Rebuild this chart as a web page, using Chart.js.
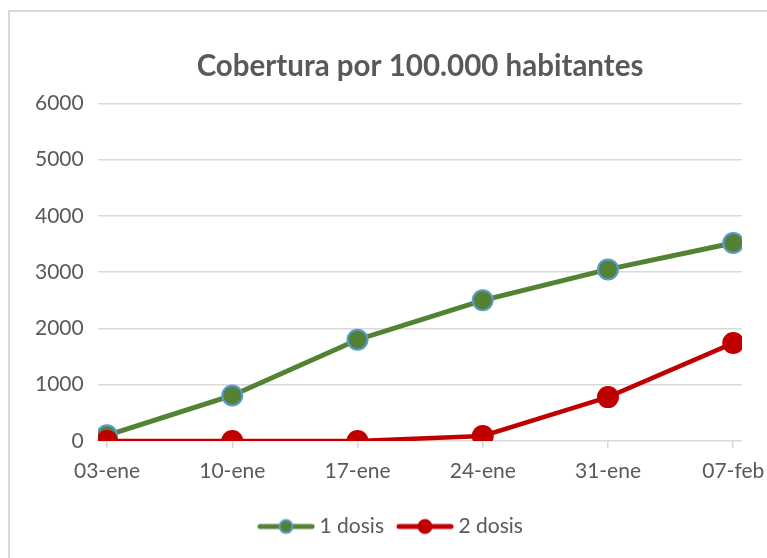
<!DOCTYPE html>
<html>
<head>
<meta charset="utf-8">
<script src="https://cdn.jsdelivr.net/npm/chart.js@4/dist/chart.umd.min.js"></script>
<style>
    html, body { margin: 0; padding: 0; background: #fff; overflow: hidden; }
    .frame { position: absolute; left: 8px; top: 10px; width: 820px; height: 620px; border: 2px solid #d9d9d9; }
    #chart { position: absolute; left: 0; top: 0; }
</style>
</head>
<body>
<div class="frame"></div>
<canvas id="chart" width="767" height="558"></canvas>
<script>
    const LABELS = ["03-ene", "10-ene", "17-ene", "24-ene", "31-ene", "07-feb"];
    const DOSIS_1 = [100, 810, 1800, 2500, 3050, 3520];
    const DOSIS_2 = [0, 0, 0, 90, 780, 1740];
    const Y_TICKS = [0, 1000, 2000, 3000, 4000, 5000, 6000];

    const GREEN = "#548235";
    const BLUE = "#5b9bd5";
    const RED = "#c00000";
    const TEXT = "#595959";
    const GRID = "#d9d9d9";
    const FONT = "Lato, 'Open Sans', sans-serif";

    // small legend glyph: line with a dot in the middle, like excel
    function legendGlyph(color, border) {
        const c = document.createElement("canvas");
        c.width = 58;
        c.height = 18;
        const ctx = c.getContext("2d");
        ctx.strokeStyle = color;
        ctx.lineWidth = 5;
        ctx.lineCap = "round";
        ctx.beginPath();
        ctx.moveTo(3, 9);
        ctx.lineTo(55, 9);
        ctx.stroke();
        ctx.beginPath();
        ctx.arc(29, 9, 6.5, 0, Math.PI * 2);
        ctx.fillStyle = color;
        ctx.fill();
        ctx.lineWidth = 2;
        ctx.strokeStyle = border;
        ctx.stroke();
        return c;
    }

    const points = values => values.map((v, i) => ({ x: i, y: v }));

    new Chart(document.getElementById("chart"), {
        type: "line",
        data: {
            datasets: [
                {
                    label: "1 dosis",
                    data: points(DOSIS_1),
                    borderColor: GREEN,
                    backgroundColor: GREEN,
                    borderWidth: 5,
                    pointRadius: 10,
                    pointBorderWidth: 2,
                    pointBorderColor: BLUE,
                    pointBackgroundColor: GREEN,
                    order: 1,
                    glyph: legendGlyph(GREEN, BLUE)
                },
                {
                    label: "2 dosis",
                    data: points(DOSIS_2),
                    borderColor: RED,
                    backgroundColor: RED,
                    borderWidth: 4.5,
                    pointRadius: 11,
                    pointBorderWidth: 0,
                    pointBackgroundColor: RED,
                    order: 0,
                    glyph: legendGlyph(RED, RED)
                }
            ]
        },
        options: {
            responsive: false,
            animation: false,
            layout: { padding: { left: 44, right: 25, top: 49, bottom: 11 } },
            plugins: {
                title: {
                    display: true,
                    fullSize: false,
                    text: "Cobertura por 100.000 habitantes",
                    color: TEXT,
                    font: { family: FONT, size: 29.5, weight: "bold" },
                    padding: { top: 0, bottom: 19 }
                },
                legend: {
                    position: "bottom",
                    labels: {
                        color: TEXT,
                        font: { family: FONT, size: 21 },
                        usePointStyle: true,
                        pointStyleWidth: 46,
                        padding: 18,
                        generateLabels: chart => chart.data.datasets.map((ds, i) => ({
                            text: ds.label,
                            fontColor: TEXT,
                            pointStyle: ds.glyph,
                            fillStyle: ds.borderColor,
                            strokeStyle: ds.borderColor,
                            lineWidth: 0,
                            hidden: false,
                            datasetIndex: i
                        }))
                    }
                },
                tooltip: { enabled: false }
            },
            scales: {
                x: {
                    type: "linear",
                    min: -0.072,
                    max: 5.07,
                    afterBuildTicks: s => { s.ticks = LABELS.map((_, i) => ({ value: i })); },
                    afterFit: s => {
                        s.height = 57;
                        // let the last label hang over the edge instead of shrinking the plot
                        s.paddingLeft = 0;
                        s.paddingRight = 0;
                    },
                    ticks: {
                        color: TEXT,
                        font: { family: FONT, size: 21 },
                        padding: 11,
                        maxRotation: 0,
                        autoSkip: false,
                        callback: v => LABELS[v]
                    },
                    grid: { drawOnChartArea: false, drawTicks: true, tickLength: 7, color: GRID, lineWidth: 1.5 },
                    border: { display: false }
                },
                y: {
                    min: 0,
                    max: 6000,
                    afterBuildTicks: s => { s.ticks = Y_TICKS.map(v => ({ value: v })); },
                    afterFit: s => { s.width = 54; },
                    ticks: {
                        color: TEXT,
                        font: { family: FONT, size: 21 },
                        callback: v => String(v),
                        // mirrored so the labels are not clipped to the narrow axis box
                        mirror: true,
                        crossAlign: "far",
                        padding: -63
                    },
                    grid: { color: GRID, lineWidth: 1.5, drawTicks: false },
                    border: { display: false }
                }
            }
        }
    });
</script>
</body>
</html>
